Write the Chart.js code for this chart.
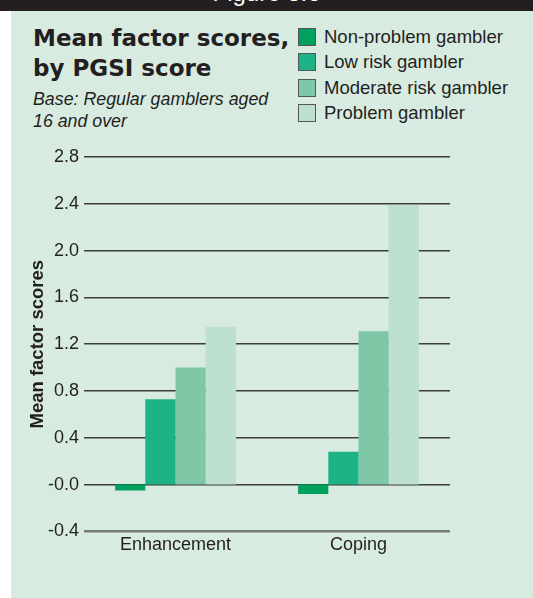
<!DOCTYPE html>
<html>
<head>
<meta charset="utf-8">
<script src="https://cdn.jsdelivr.net/npm/chart.js@4"></script>
<style>
  html,body{margin:0;padding:0;background:#fff;width:533px;height:598px;overflow:hidden;font-family:"Liberation Sans",Arial,sans-serif;color:#231f20}
  #topbar{position:absolute;left:0;top:0;width:533px;height:11px;background:#231f20;overflow:hidden}
  #topbar span{position:absolute;left:0;width:533px;text-align:center;top:-19px;font-size:24px;line-height:24px;color:#fff}
  #panel{position:absolute;left:11px;top:11px;width:522px;height:587px;background:#d8ebe0}
  #title{position:absolute;left:33px;top:23px;font-family:"DejaVu Sans",sans-serif;font-weight:bold;font-size:23px;line-height:30px;color:#231f20}
  #sub{position:absolute;left:33px;top:88px;font-style:italic;font-size:17.8px;line-height:22px;color:#231f20}
  #legend{position:absolute;left:298px;top:24px}
  .lg{display:flex;align-items:center;height:25.5px;font-size:18.5px}
  .lg i{display:inline-block;width:18px;height:18px;border:1px solid #555;box-sizing:border-box;margin-right:8px}
  #wrap{position:absolute;left:0;top:0;width:533px;height:598px}
</style>
</head>
<body>
<div id="topbar"><span>Figure 8.6</span></div>
<div id="panel"></div>
<div id="title">Mean factor scores,<br>by PGSI score</div>
<div id="sub">Base: Regular gamblers aged<br>16 and over</div>
<div id="legend"></div>
<div id="wrap"><canvas id="c"></canvas></div>
<script>
const categories = ['Enhancement', 'Coping'];
const seriesNames = ['Non-problem gambler', 'Low risk gambler', 'Moderate risk gambler', 'Problem gambler'];
const nonProblem = [-0.05, -0.08];
const lowRisk = [0.73, 0.28];
const moderateRisk = [1.00, 1.31];
const problem = [1.35, 2.39];
const tickLabels = ['-0.4', '-0.0', '0.4', '0.8', '1.2', '1.6', '2.0', '2.4', '2.8'];
const colors = ['#00a15f', '#1cb386', '#7ec8a8', '#bde0d0'];

const values = [nonProblem, lowRisk, moderateRisk, problem];

document.getElementById('legend').innerHTML = seriesNames.map((n,i)=>`<div class="lg"><i style="background:${colors[i]}"></i>${n}</div>`).join('');

const font = '"Liberation Sans", Arial, sans-serif';
const ctx = document.getElementById('c');
new Chart(ctx, {
  type: 'bar',
  data: {
    labels: categories,
    datasets: seriesNames.map((n,i)=>({label:n, data:values[i], backgroundColor:colors[i], borderWidth:0, categoryPercentage:0.66, barPercentage:1}))
  },
  options: {
    responsive: true,
    maintainAspectRatio: false,
    animation: false,
    layout: {padding: {left: 24, top: 157, right: 83, bottom: 39}},
    plugins: {legend: {display: false}, tooltip: {enabled: false}},
    scales: {
      x: {
        grid: {display: false, drawTicks: false},
        border: {display: false},
        ticks: {color: '#231f20', padding: 3, font: {family: font, size: 18}}
      },
      y: {
        min: -0.4, max: 2.8,
        afterFit: s => { s.width = 60; },
        border: {display: false},
        grid: {drawTicks: false, color: c => c.index === 0 ? '#7a7a7a' : '#3c3c3c', lineWidth: c => c.index === 0 ? 2.5 : 1.5},
        ticks: {
          stepSize: 0.4, padding: 5, color: '#231f20',
          font: {family: font, size: 18},
          callback: (v, i) => tickLabels[i]
        },
        title: {display: true, text: 'Mean factor scores', color: '#231f20', padding: {top: 3, bottom: 0}, font: {family: font, size: 18.5, weight: 'bold'}}
      }
    }
  }
});
</script>
</body>
</html>
